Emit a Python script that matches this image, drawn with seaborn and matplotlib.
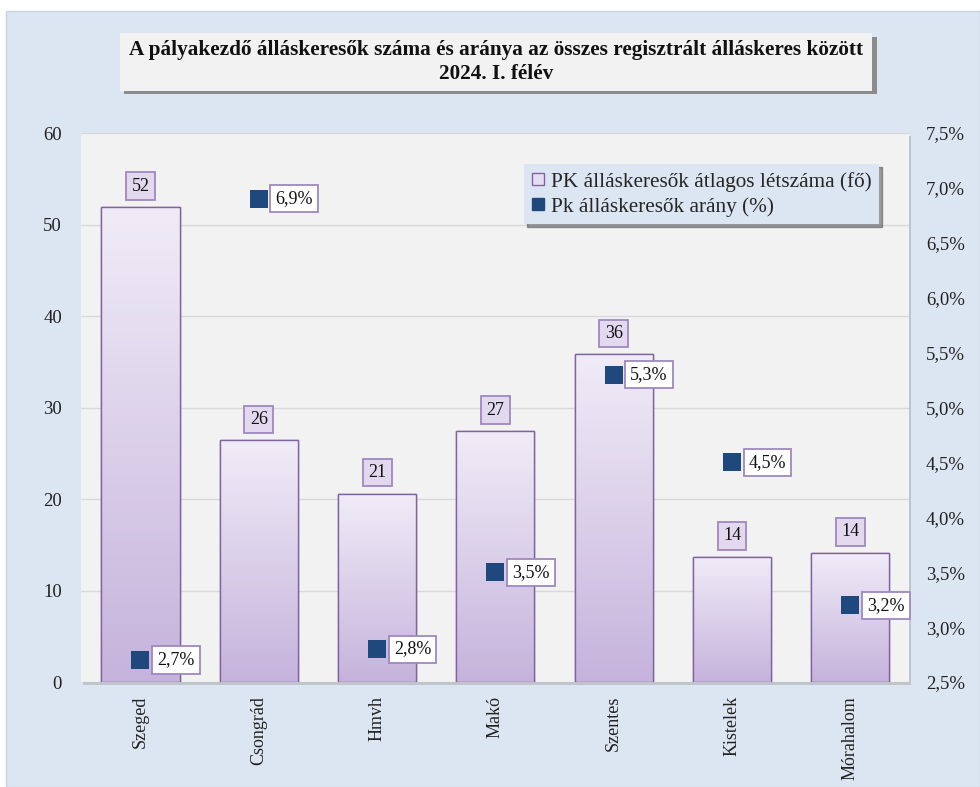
import numpy as np
import pandas as pd
import matplotlib
matplotlib.use('Agg')
import matplotlib.pyplot as plt
from matplotlib.patches import Rectangle
from matplotlib.colors import LinearSegmentedColormap
from matplotlib.ticker import FuncFormatter
from matplotlib.lines import Line2D
import seaborn as sns

# --- adatok ---
kirendeltsegek = ['Szeged', 'Csongrád', 'Hmvh', 'Makó', 'Szentes', 'Kistelek', 'Mórahalom']
pk_letszam = [51.9, 26.4, 20.6, 27.4, 35.8, 13.7, 14.1]
pk_arany = [2.7, 6.9, 2.8, 3.5, 5.3, 4.5, 3.2]

cim = 'A pályakezdő álláskeresők száma és aránya az összes regisztrált álláskeres között\n2024. I. félév'
leg_oszlop = 'PK álláskeresők átlagos létszáma (fő)'
leg_pont = 'Pk álláskeresők arány (%)'

df = pd.DataFrame({'kir': kirendeltsegek, 'letszam': pk_letszam, 'arany': pk_arany})

sns.set_theme(style='white')
plt.rcParams['font.family'] = ['Liberation Serif', 'DejaVu Serif']

BG = '#DCE6F2'
PLOT_BG = '#F2F2F2'
EDGE = '#8064A2'
SQ = '#1F497D'

fig = plt.figure(figsize=(9.8, 7.87), dpi=100)
fig.patch.set_facecolor('white')
# kek keret
fig.patches.append(Rectangle((0.006, 0.0), 0.994, 0.986, transform=fig.transFigure,
                             facecolor=BG, edgecolor='#C8D3E0', lw=1, zorder=-10))

ax = fig.add_axes([0.083, 0.1334, 0.845, 0.6976])
ax.set_facecolor(PLOT_BG)
# arnyek a rajzterulet alatt
fig.patches.append(Rectangle((0.085, 0.129), 0.845, 0.6976, transform=fig.transFigure,
                             facecolor='#A6A6A6', edgecolor='none', alpha=0.5, zorder=-5))

sns.barplot(data=df, x='kir', y='letszam', ax=ax, color='#E6DEF0', edgecolor=EDGE,
            linewidth=1.0, width=0.66, zorder=2)

# szinatmenet az oszlopokra
cmap = LinearSegmentedColormap.from_list('lila', ['#C6B3DC', '#F0ECF7'])
grad = np.linspace(0, 1, 256).reshape(-1, 1)
for p in ax.patches:
    x0, w, h = p.get_x(), p.get_width(), p.get_height()
    im = ax.imshow(grad, extent=[x0, x0 + w, 0, h], origin='lower', aspect='auto',
                   cmap=cmap, zorder=2.5)
    im.set_clip_path(p)
    ax.add_patch(Rectangle((x0, 0), w, h, facecolor='none', edgecolor=EDGE, lw=1.0, zorder=3))

ax.set_xlim(-0.5, len(kirendeltsegek) - 0.5)
ax.set_ylim(0, 60)
ax.set_yticks(range(0, 61, 10))
ax.yaxis.grid(True, color='#D9D9D9', lw=1)
ax.set_axisbelow(True)
ax.set_xlabel('')
ax.set_ylabel('')
for s in ax.spines.values():
    s.set_visible(False)
ax.tick_params(axis='y', labelsize=13.5, pad=14, length=0, colors='#222222')
ax.tick_params(axis='x', labelsize=13, pad=10, length=0, colors='#222222', labelrotation=90)

# oszlopcimkek
for i, v in enumerate(pk_letszam):
    ax.annotate(f'{v:.0f}', (i, v), xytext=(0, 9), textcoords='offset points',
                ha='center', va='bottom', fontsize=13, color='#111111', zorder=6,
                bbox=dict(boxstyle='square,pad=0.3', fc='#E2D9EE', ec='#9F88C0', lw=1.3))

# masodik tengely: aranyok
ax2 = ax.twinx()
sns.stripplot(data=df, x='kir', y='arany', ax=ax2, marker='s', size=12.5, color=SQ,
              jitter=False, zorder=5)
ax2.set_xlim(-0.5, len(kirendeltsegek) - 0.5)
ax2.set_ylim(2.5, 7.5)
ax2.set_yticks(np.arange(2.5, 7.51, 0.5))
ax2.yaxis.set_major_formatter(FuncFormatter(lambda y, _: f'{y:.1f}%'.replace('.', ',')))
ax2.tick_params(axis='y', labelsize=13.5, pad=12, length=0, colors='#222222')
ax2.set_xlabel('')
ax2.set_ylabel('')
ax2.grid(False)
for s in ax2.spines.values():
    s.set_visible(False)

for i, v in enumerate(pk_arany):
    ax2.annotate(f'{v:.1f}%'.replace('.', ','), (i, v), xytext=(12, 0), textcoords='offset points',
                 ha='left', va='center', fontsize=13, color='#111111', zorder=6,
                 bbox=dict(boxstyle='square,pad=0.28', fc='white', ec='#9F88C0', lw=1.3))

# cim doboz
fig.patches.append(Rectangle((0.127, 0.880), 0.768, 0.073, transform=fig.transFigure,
                             facecolor='#8C8C8C', edgecolor='none', zorder=1))
fig.patches.append(Rectangle((0.122, 0.885), 0.768, 0.073, transform=fig.transFigure,
                             facecolor='#F2F2F2', edgecolor='none', zorder=2))
fig.text(0.506, 0.921, cim, ha='center', va='center', fontsize=15.3, fontweight='bold',
         linespacing=1.25, color='#111111', zorder=3)

# jelmagyarazat
handles = [
    Line2D([], [], marker='s', ls='none', markersize=9, markerfacecolor='#E6DEF0',
           markeredgecolor=EDGE, markeredgewidth=1),
    Line2D([], [], marker='s', ls='none', markersize=9, markerfacecolor=SQ, markeredgecolor=SQ),
]
leg = ax2.legend(handles, [leg_oszlop, leg_pont], loc='upper right', bbox_to_anchor=(0.963, 0.943),
                 borderaxespad=0, frameon=True, fancybox=False, shadow=True, fontsize=15.3,
                 handlelength=0.6, handletextpad=0.3, borderpad=0.35, labelspacing=0.25)
leg.get_frame().set_facecolor(BG)
leg.get_frame().set_edgecolor('none')
leg.set_zorder(10)

fig.savefig('out.png', dpi=100, facecolor=fig.get_facecolor())
